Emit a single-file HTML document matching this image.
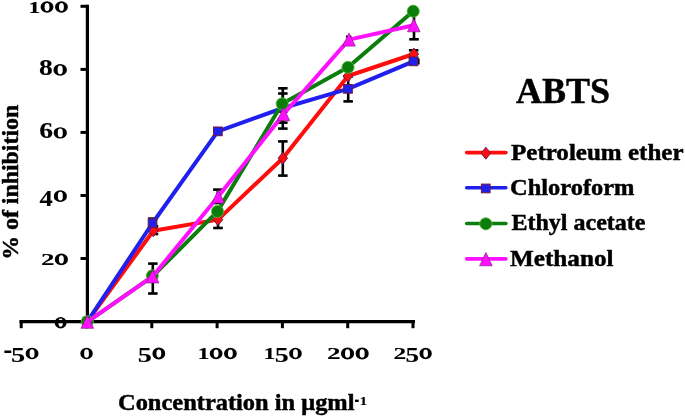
<!DOCTYPE html>
<html><head><meta charset="utf-8"><style>
html,body{margin:0;padding:0;background:#fff;}
svg{display:block;will-change:transform;}
text{font-family:"Liberation Serif",serif;font-weight:bold;fill:#000;stroke:#000;stroke-width:0.45px;}
</style></head><body>
<svg width="685" height="417" viewBox="0 0 685 417">
<rect width="685" height="417" fill="#fff"/>
<g stroke="#000" stroke-width="3.2" fill="none" stroke-linecap="butt">
<line x1="87.4" y1="4.7" x2="87.4" y2="323.2"/>
<line x1="19.5" y1="321.7" x2="415" y2="321.7"/>
<line x1="80.5" y1="321.6" x2="87.4" y2="321.6" stroke-width="3"/>
<line x1="80.5" y1="258.5" x2="87.4" y2="258.5" stroke-width="3"/>
<line x1="80.5" y1="195.5" x2="87.4" y2="195.5" stroke-width="3"/>
<line x1="80.5" y1="132.4" x2="87.4" y2="132.4" stroke-width="3"/>
<line x1="80.5" y1="69.4" x2="87.4" y2="69.4" stroke-width="3"/>
<line x1="80.5" y1="6.3" x2="87.4" y2="6.3" stroke-width="3"/>
<line x1="21.2" y1="320.5" x2="21.2" y2="328.2" stroke-width="3"/>
<line x1="86.5" y1="320.5" x2="86.5" y2="328.2" stroke-width="3"/>
<line x1="151.8" y1="320.5" x2="151.8" y2="328.2" stroke-width="3"/>
<line x1="217.1" y1="320.5" x2="217.1" y2="328.2" stroke-width="3"/>
<line x1="282.4" y1="320.5" x2="282.4" y2="328.2" stroke-width="3"/>
<line x1="347.7" y1="320.5" x2="347.7" y2="328.2" stroke-width="3"/>
<line x1="413.0" y1="320.5" x2="413.0" y2="328.2" stroke-width="3"/>
</g>
<line x1="152.8" y1="263.6" x2="152.8" y2="293.5" stroke="#000" stroke-width="2.6"/><line x1="148.1" y1="263.6" x2="157.6" y2="263.6" stroke="#000" stroke-width="2.6"/><line x1="148.1" y1="293.5" x2="157.6" y2="293.5" stroke="#000" stroke-width="2.6"/>
<line x1="152.8" y1="218.6" x2="152.8" y2="227.5" stroke="#000" stroke-width="2.6"/><line x1="148.1" y1="218.6" x2="157.6" y2="218.6" stroke="#000" stroke-width="2.6"/><line x1="148.1" y1="227.5" x2="157.6" y2="227.5" stroke="#000" stroke-width="2.6"/>
<line x1="153.6" y1="226.2" x2="153.6" y2="234.0" stroke="#000" stroke-width="2.6"/><line x1="148.8" y1="226.2" x2="158.3" y2="226.2" stroke="#000" stroke-width="2.6"/><line x1="148.8" y1="234.0" x2="158.3" y2="234.0" stroke="#000" stroke-width="2.6"/>
<line x1="217.8" y1="189.6" x2="217.8" y2="203.0" stroke="#000" stroke-width="2.6"/><line x1="213.1" y1="189.6" x2="222.6" y2="189.6" stroke="#000" stroke-width="2.6"/><line x1="213.1" y1="203.0" x2="222.6" y2="203.0" stroke="#000" stroke-width="2.6"/>
<line x1="218.0" y1="211.0" x2="218.0" y2="228.0" stroke="#000" stroke-width="2.6"/><line x1="213.2" y1="211.0" x2="222.8" y2="211.0" stroke="#000" stroke-width="2.6"/><line x1="213.2" y1="228.0" x2="222.8" y2="228.0" stroke="#000" stroke-width="2.6"/>
<line x1="282.8" y1="141.4" x2="282.8" y2="175.6" stroke="#000" stroke-width="2.6"/><line x1="278.1" y1="141.4" x2="287.6" y2="141.4" stroke="#000" stroke-width="2.6"/><line x1="278.1" y1="175.6" x2="287.6" y2="175.6" stroke="#000" stroke-width="2.6"/>
<line x1="282.8" y1="88.3" x2="282.8" y2="118.7" stroke="#000" stroke-width="2.6"/><line x1="278.1" y1="88.3" x2="287.6" y2="88.3" stroke="#000" stroke-width="2.6"/><line x1="278.1" y1="118.7" x2="287.6" y2="118.7" stroke="#000" stroke-width="2.6"/>
<line x1="282.8" y1="93.5" x2="282.8" y2="122.6" stroke="#000" stroke-width="2.6"/><line x1="278.1" y1="93.5" x2="287.6" y2="93.5" stroke="#000" stroke-width="2.6"/><line x1="278.1" y1="122.6" x2="287.6" y2="122.6" stroke="#000" stroke-width="2.6"/>
<line x1="282.8" y1="100.7" x2="282.8" y2="128.6" stroke="#000" stroke-width="2.6"/><line x1="278.1" y1="100.7" x2="287.6" y2="100.7" stroke="#000" stroke-width="2.6"/><line x1="278.1" y1="128.6" x2="287.6" y2="128.6" stroke="#000" stroke-width="2.6"/>
<line x1="348.2" y1="76.4" x2="348.2" y2="101.4" stroke="#000" stroke-width="2.6"/><line x1="343.4" y1="76.4" x2="352.9" y2="76.4" stroke="#000" stroke-width="2.6"/><line x1="343.4" y1="101.4" x2="352.9" y2="101.4" stroke="#000" stroke-width="2.6"/>
<line x1="414.0" y1="12.0" x2="414.0" y2="39.3" stroke="#000" stroke-width="2.6"/><line x1="409.2" y1="12.0" x2="418.8" y2="12.0" stroke="#000" stroke-width="2.6"/><line x1="409.2" y1="39.3" x2="418.8" y2="39.3" stroke="#000" stroke-width="2.6"/>
<line x1="413.6" y1="50.3" x2="413.6" y2="58.0" stroke="#000" stroke-width="2.6"/><line x1="408.9" y1="50.3" x2="418.4" y2="50.3" stroke="#000" stroke-width="2.6"/><line x1="408.9" y1="58.0" x2="418.4" y2="58.0" stroke="#000" stroke-width="2.6"/>
<line x1="348.6" y1="36.6" x2="348.6" y2="44.0" stroke="#000" stroke-width="2.2"/><line x1="345.9" y1="36.6" x2="351.4" y2="36.6" stroke="#000" stroke-width="2.2"/><line x1="345.9" y1="44.0" x2="351.4" y2="44.0" stroke="#000" stroke-width="2.2"/>
<rect x="417.2" y="58.5" width="2.4" height="6" fill="#000"/>
<polyline points="87.3,321.6 153.3,230.8 218.0,219.6 282.8,158.2 348.0,76.0 413.8,54.0" fill="none" stroke="#ff0d0d" stroke-width="4.0" stroke-linejoin="round"/>
<path d="M87.3,315.6 L92.0,321.6 L87.3,327.6 L82.5,321.6Z" fill="#ff0d0d" stroke="#5a1a50" stroke-width="0.9"/>
<path d="M153.3,224.8 L158.1,230.8 L153.3,236.8 L148.6,230.8Z" fill="#ff0d0d" stroke="#5a1a50" stroke-width="0.9"/>
<path d="M218.0,213.6 L222.8,219.6 L218.0,225.6 L213.2,219.6Z" fill="#ff0d0d" stroke="#5a1a50" stroke-width="0.9"/>
<path d="M282.8,152.2 L287.6,158.2 L282.8,164.2 L278.1,158.2Z" fill="#ff0d0d" stroke="#5a1a50" stroke-width="0.9"/>
<path d="M348.0,70.0 L352.8,76.0 L348.0,82.0 L343.2,76.0Z" fill="#ff0d0d" stroke="#5a1a50" stroke-width="0.9"/>
<path d="M413.8,48.0 L418.6,54.0 L413.8,60.0 L409.1,54.0Z" fill="#ff0d0d" stroke="#5a1a50" stroke-width="0.9"/>
<polyline points="87.3,321.6 152.6,223.0 217.8,131.3 283.0,108.0 348.0,88.8 413.5,61.4" fill="none" stroke="#2020ee" stroke-width="4.0" stroke-linejoin="round"/>
<rect x="83.0" y="317.2" width="8.7" height="8.7" fill="#2020ee" stroke="#701838" stroke-width="1"/>
<rect x="148.2" y="218.7" width="8.7" height="8.7" fill="#2020ee" stroke="#701838" stroke-width="1"/>
<rect x="213.5" y="127.0" width="8.7" height="8.7" fill="#2020ee" stroke="#701838" stroke-width="1"/>
<rect x="278.6" y="103.7" width="8.7" height="8.7" fill="#2020ee" stroke="#701838" stroke-width="1"/>
<rect x="343.6" y="84.5" width="8.7" height="8.7" fill="#2020ee" stroke="#701838" stroke-width="1"/>
<rect x="409.1" y="57.0" width="8.7" height="8.7" fill="#2020ee" stroke="#701838" stroke-width="1"/>
<polyline points="87.3,321.8 152.6,276.4 217.5,211.4 282.2,103.8 348.0,67.3 413.2,11.2" fill="none" stroke="#0a7d0a" stroke-width="4.0" stroke-linejoin="round"/>
<circle cx="87.3" cy="321.6" r="6.1" fill="#0a7d0a" stroke="#5fbf3f" stroke-width="0.8"/>
<circle cx="152.3" cy="275.8" r="6.1" fill="#0a7d0a" stroke="#5fbf3f" stroke-width="0.8"/>
<circle cx="217.5" cy="211.4" r="6.1" fill="#0a7d0a" stroke="#5fbf3f" stroke-width="0.8"/>
<circle cx="282.2" cy="103.8" r="6.1" fill="#0a7d0a" stroke="#5fbf3f" stroke-width="0.8"/>
<circle cx="348.0" cy="67.3" r="6.1" fill="#0a7d0a" stroke="#5fbf3f" stroke-width="0.8"/>
<circle cx="413.2" cy="11.2" r="6.1" fill="#0a7d0a" stroke="#5fbf3f" stroke-width="0.8"/>
<polyline points="87.3,321.8 152.6,276.4 218.2,196.6 283.5,114.2 349.0,39.6 413.8,25.3" fill="none" stroke="#ff10ff" stroke-width="4.0" stroke-linejoin="round"/>
<path d="M87.3,315.3 L93.6,328.3 L81.0,328.3Z" fill="#ff10ff" stroke="#8a1a8a" stroke-width="0.7"/>
<path d="M152.6,269.9 L158.9,282.9 L146.3,282.9Z" fill="#ff10ff" stroke="#8a1a8a" stroke-width="0.7"/>
<path d="M218.2,190.1 L224.5,203.1 L211.9,203.1Z" fill="#ff10ff" stroke="#8a1a8a" stroke-width="0.7"/>
<path d="M283.5,107.7 L289.8,120.7 L277.2,120.7Z" fill="#ff10ff" stroke="#8a1a8a" stroke-width="0.7"/>
<path d="M349.0,33.1 L355.3,46.1 L342.7,46.1Z" fill="#ff10ff" stroke="#8a1a8a" stroke-width="0.7"/>
<path d="M413.8,18.8 L420.1,31.8 L407.5,31.8Z" fill="#ff10ff" stroke="#8a1a8a" stroke-width="0.7"/>
<text transform="matrix(0.2425,0,0,0.1727,28.16,12.50)" font-size="100">1</text><path fill-rule="evenodd" fill="#000" d="M40.58,7.00a6.45,5.70 0 1,0 12.90,0a6.45,5.70 0 1,0 -12.90,0ZM44.58,7.00a2.45,4.10 0 1,0 4.90,0a2.45,4.10 0 1,0 -4.90,0Z"/><path fill-rule="evenodd" fill="#000" d="M55.00,7.00a6.45,5.70 0 1,0 12.90,0a6.45,5.70 0 1,0 -12.90,0ZM59.00,7.00a2.45,4.10 0 1,0 4.90,0a2.45,4.10 0 1,0 -4.90,0Z"/>
<text transform="matrix(0.2761,0,0,0.2252,39.03,75.37)" font-size="100">8</text><path fill-rule="evenodd" fill="#000" d="M53.45,69.90a6.73,5.70 0 1,0 13.45,0a6.73,5.70 0 1,0 -13.45,0ZM57.62,69.90a2.56,4.10 0 1,0 5.11,0a2.56,4.10 0 1,0 -5.11,0Z"/>
<text transform="matrix(0.2759,0,0,0.2239,39.13,138.38)" font-size="100">6</text><path fill-rule="evenodd" fill="#000" d="M53.66,132.90a6.62,5.70 0 1,0 13.24,0a6.62,5.70 0 1,0 -13.24,0ZM57.76,132.90a2.52,4.10 0 1,0 5.03,0a2.52,4.10 0 1,0 -5.03,0Z"/>
<text transform="matrix(0.2640,0,0,0.2258,39.60,205.50)" font-size="100">4</text><path fill-rule="evenodd" fill="#000" d="M53.81,196.20a6.55,5.70 0 1,0 13.09,0a6.55,5.70 0 1,0 -13.09,0ZM57.87,196.20a2.49,4.10 0 1,0 4.97,0a2.49,4.10 0 1,0 -4.97,0Z"/>
<text transform="matrix(0.2703,0,0,0.1667,41.02,264.90)" font-size="100">2</text><path fill-rule="evenodd" fill="#000" d="M54.85,259.40a6.53,5.70 0 1,0 13.05,0a6.53,5.70 0 1,0 -13.05,0ZM58.89,259.40a2.48,4.10 0 1,0 4.96,0a2.48,4.10 0 1,0 -4.96,0Z"/>
<path fill-rule="evenodd" fill="#000" d="M54.70,322.70a5.95,5.70 0 1,0 11.90,0a5.95,5.70 0 1,0 -11.90,0ZM58.39,322.70a2.26,4.10 0 1,0 4.52,0a2.26,4.10 0 1,0 -4.52,0Z"/>
<text transform="matrix(0.2592,0,0,0.2941,3.59,358.94)" font-size="100">-</text><text transform="matrix(0.2840,0,0,0.2180,10.91,362.08)" font-size="100">5</text><path fill-rule="evenodd" fill="#000" d="M25.62,353.50a6.44,5.70 0 1,0 12.88,0a6.44,5.70 0 1,0 -12.88,0ZM29.62,353.50a2.45,4.10 0 1,0 4.89,0a2.45,4.10 0 1,0 -4.89,0Z"/>
<path fill-rule="evenodd" fill="#000" d="M80.30,353.50a6.25,5.70 0 1,0 12.50,0a6.25,5.70 0 1,0 -12.50,0ZM84.17,353.50a2.38,4.10 0 1,0 4.75,0a2.38,4.10 0 1,0 -4.75,0Z"/>
<text transform="matrix(0.2813,0,0,0.2180,137.87,362.08)" font-size="100">5</text><path fill-rule="evenodd" fill="#000" d="M152.45,353.50a6.38,5.70 0 1,0 12.75,0a6.38,5.70 0 1,0 -12.75,0ZM156.40,353.50a2.42,4.10 0 1,0 4.85,0a2.42,4.10 0 1,0 -4.85,0Z"/>
<text transform="matrix(0.2405,0,0,0.1727,197.38,359.00)" font-size="100">1</text><path fill-rule="evenodd" fill="#000" d="M209.70,353.50a6.40,5.70 0 1,0 12.80,0a6.40,5.70 0 1,0 -12.80,0ZM213.67,353.50a2.43,4.10 0 1,0 4.86,0a2.43,4.10 0 1,0 -4.86,0Z"/><path fill-rule="evenodd" fill="#000" d="M224.00,353.50a6.40,5.70 0 1,0 12.80,0a6.40,5.70 0 1,0 -12.80,0ZM227.97,353.50a2.43,4.10 0 1,0 4.86,0a2.43,4.10 0 1,0 -4.86,0Z"/>
<text transform="matrix(0.2379,0,0,0.1727,263.60,359.00)" font-size="100">1</text><text transform="matrix(0.2793,0,0,0.2180,274.67,362.08)" font-size="100">5</text><path fill-rule="evenodd" fill="#000" d="M289.14,353.50a6.33,5.70 0 1,0 12.66,0a6.33,5.70 0 1,0 -12.66,0ZM293.06,353.50a2.41,4.10 0 1,0 4.81,0a2.41,4.10 0 1,0 -4.81,0Z"/>
<text transform="matrix(0.2711,0,0,0.1667,327.12,359.00)" font-size="100">2</text><path fill-rule="evenodd" fill="#000" d="M340.98,353.50a6.55,5.70 0 1,0 13.09,0a6.55,5.70 0 1,0 -13.09,0ZM345.04,353.50a2.49,4.10 0 1,0 4.97,0a2.49,4.10 0 1,0 -4.97,0Z"/><path fill-rule="evenodd" fill="#000" d="M355.61,353.50a6.55,5.70 0 1,0 13.09,0a6.55,5.70 0 1,0 -13.09,0ZM359.67,353.50a2.49,4.10 0 1,0 4.97,0a2.49,4.10 0 1,0 -4.97,0Z"/>
<text transform="matrix(0.2548,0,0,0.1667,393.48,359.00)" font-size="100">2</text><text transform="matrix(0.2714,0,0,0.2180,405.43,362.08)" font-size="100">5</text><path fill-rule="evenodd" fill="#000" d="M419.49,353.50a6.15,5.70 0 1,0 12.31,0a6.15,5.70 0 1,0 -12.31,0ZM423.31,353.50a2.34,4.10 0 1,0 4.68,0a2.34,4.10 0 1,0 -4.68,0Z"/>
<text x="118" y="410" font-size="22.5" textLength="236.5" lengthAdjust="spacingAndGlyphs">Concentration in μgml</text>
<text transform="matrix(0.1423,0,0,0.2471,354.50,407.22)" font-size="100">-</text>
<text transform="matrix(0.1568,0,0,0.1197,359.55,404.50)" font-size="100">1</text>
<text transform="translate(18,259.8) rotate(-90)" x="0" y="0" font-size="22.5" textLength="155" lengthAdjust="spacingAndGlyphs">% of inhibition</text>
<text x="516" y="102.5" font-size="35" textLength="94" lengthAdjust="spacingAndGlyphs">ABTS</text>
<line x1="466.7" y1="152.6" x2="505.9" y2="152.6" stroke="#ff0d0d" stroke-width="3.6" stroke-linecap="round"/>
<path d="M485.9,147.2 L490.6,153.2 L485.9,159.2 L481.1,153.2Z" fill="#ff0d0d" stroke="#5a1a50" stroke-width="0.9"/>
<text x="511.0" y="159.6" font-size="22.5" textLength="172.5" lengthAdjust="spacingAndGlyphs">Petroleum ether</text>
<line x1="466.7" y1="187.7" x2="505.9" y2="187.7" stroke="#2020ee" stroke-width="3.6" stroke-linecap="round"/>
<rect x="481.4" y="184.1" width="8.7" height="8.7" fill="#2020ee" stroke="#701838" stroke-width="1"/>
<text x="510.0" y="195.0" font-size="22.5" textLength="124.5" lengthAdjust="spacingAndGlyphs">Chloroform</text>
<line x1="466.7" y1="223.5" x2="505.9" y2="223.5" stroke="#0a7d0a" stroke-width="3.6" stroke-linecap="round"/>
<circle cx="485.8" cy="223.8" r="6.1" fill="#0a7d0a" stroke="#5fbf3f" stroke-width="0.8"/>
<text x="511.5" y="229.7" font-size="22.5" textLength="134.0" lengthAdjust="spacingAndGlyphs">Ethyl acetate</text>
<line x1="466.7" y1="258.9" x2="505.9" y2="258.9" stroke="#ff10ff" stroke-width="3.6" stroke-linecap="round"/>
<path d="M485.9,252.6 L492.2,265.8 L479.6,265.8Z" fill="#ff10ff" stroke="#8a1a8a" stroke-width="0.7"/>
<text x="510.0" y="265.6" font-size="22.5" textLength="103.5" lengthAdjust="spacingAndGlyphs">Methanol</text>
</svg>
</body></html>
